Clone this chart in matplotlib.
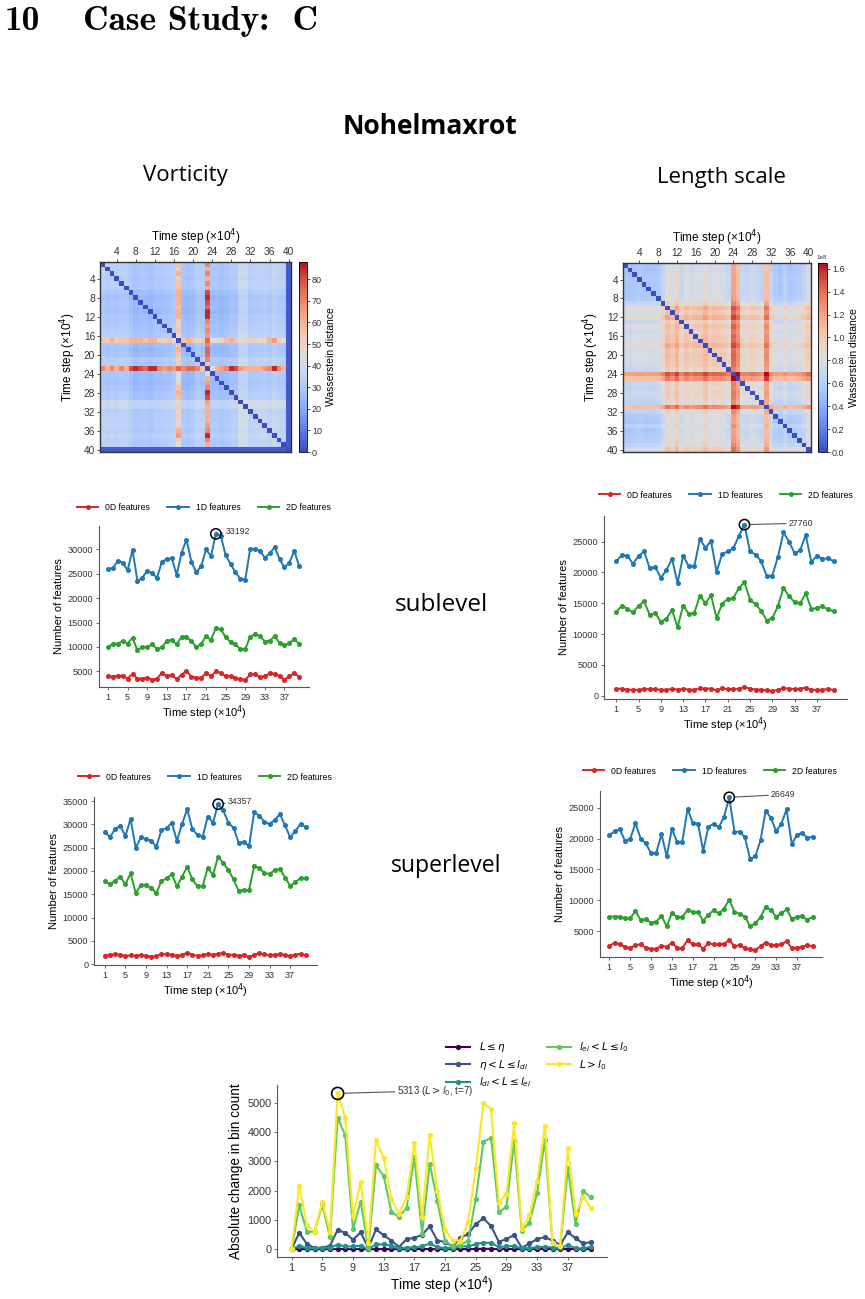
import os
import numpy as np
import matplotlib
matplotlib.use("Agg")
import matplotlib.pyplot as plt
from matplotlib.font_manager import FontProperties

plt.rcParams['font.family'] = ['Liberation Sans', 'DejaVu Sans']

W, H = 865, 1299
steps = list(range(1, 41))
heat_ticks = [4, 8, 12, 16, 20, 24, 28, 32, 36, 40]
line_ticks = [1, 5, 9, 13, 17, 21, 25, 29, 33, 37]
feat_labels = ['0D features', '1D features', '2D features']
feat_colors = ['#d62728', '#1f77b4', '#2ca02c']

# heatmap data: per-step base level plus the rows that stand out
vort_base = [17, 16, 17, 16, 17, 17, 14, 12, 13, 13, 12, 14, 14, 15, 15, 17, 0, 13, 12, 13,
             17, 16, 0, 13, 13, 12, 13, 15, 15, 22, 22, 17, 18, 18, 19, 17, 20, 18, 17, 0]
vort_row17 = [55, 50, 60, 50, 55, 55, 60, 60, 60, 55, 60, 60, 50, 50, 55, 45, 0, 55, 60, 55,
              50, 50, 75, 45, 45, 50, 55, 60, 55, 45, 50, 50, 50, 45, 50, 60, 65, 50, 45, 3]
vort_row23 = [70, 60, 70, 60, 70, 60, 80, 85, 80, 75, 85, 85, 70, 65, 70, 65, 75, 70, 75, 75,
              70, 55, 0, 45, 60, 65, 70, 85, 80, 65, 60, 60, 60, 60, 65, 70, 85, 70, 60, 3]
vort_row40 = [3, 3, 3, 3, 3, 3, 3, 3, 3, 3, 3, 3, 3, 3, 3, 3, 3, 3, 3, 3,
              3, 3, 3, 3, 3, 3, 3, 3, 3, 3, 3, 3, 3, 3, 3, 3, 3, 3, 3, 0]
len_base = [0.27, 0.26, 0.28, 0.30, 0.28, 0.28, 0.28, 0.30, 0.40, 0.58, 0.50, 0.62, 0.42, 0.52,
            0.45, 0.50, 0.50, 0.60, 0.48, 0.52, 0.50, 0.48, 0.42, 0.92, 0.78, 0.42, 0.40, 0.45,
            0.42, 0.38, 0.78, 0.38, 0.30, 0.28, 0.36, 0.28, 0.30, 0.33, 0.38, 0.48]

sub_vort_0d = [4000, 3900, 4100, 4100, 3500, 4500, 3500, 3500, 3700, 3300, 3500, 4700, 4000, 4300,
               3400, 4300, 5100, 3900, 3700, 3700, 4600, 4000, 5000, 4700, 4000, 4000, 3600, 3400,
               3200, 4400, 4400, 3800, 4000, 4600, 4500, 4000, 3300, 4000, 4600, 3900]
sub_vort_1d = [26000, 26100, 27700, 27300, 25700, 29900, 23500, 24200, 25600, 25100, 24200, 27500,
               28000, 28200, 24800, 29300, 32000, 27500, 25300, 26500, 30000, 28600, 33192, 32800,
               28800, 27000, 25300, 24000, 23800, 30100, 30100, 29700, 28300, 29200, 30500, 28000,
               26300, 27300, 29700, 26500]
sub_vort_2d = [9900, 10700, 10700, 11200, 10700, 11900, 9300, 10000, 10000, 10500, 9600, 9900,
               11300, 11400, 10500, 12100, 12100, 11200, 10000, 10600, 12200, 11400, 13900, 13600,
               12000, 11000, 10500, 9500, 9600, 12100, 12600, 12200, 11100, 11300, 12200, 10800,
               10300, 10800, 11600, 10600]

sub_len_0d = [1100, 1150, 1000, 950, 950, 1050, 1100, 1050, 950, 950, 1100, 1000, 1100, 1000, 950,
              1200, 1150, 1150, 850, 1200, 1050, 1100, 1100, 1400, 1150, 1000, 1000, 850, 750, 950,
              1200, 1150, 1050, 1150, 1300, 950, 950, 950, 1100, 900]
sub_len_1d = [21800, 22800, 22700, 21400, 22700, 23400, 20700, 20900, 19100, 20400, 22200, 18300,
              22700, 21000, 21000, 25400, 24000, 25100, 20100, 23000, 23400, 23900, 25900, 27760,
              23400, 22900, 21800, 19400, 19500, 22500, 26500, 25000, 23100, 23600, 26100, 21700,
              22700, 22200, 22300, 21800]
sub_len_2d = [13600, 14600, 14100, 13500, 14600, 15300, 13100, 13400, 12000, 12500, 13900, 11100,
              14600, 13300, 13400, 16200, 15000, 16300, 12600, 14900, 15700, 15800, 17500, 18400,
              15600, 14800, 13800, 12200, 12600, 14500, 17500, 16100, 15200, 15000, 16600, 14100,
              14200, 14500, 14000, 13700]

sup_vort_0d = [1800, 2000, 2100, 2000, 1700, 1900, 1800, 1900, 1800, 1600, 1700, 2100, 2100, 2000,
               1800, 2000, 2400, 2000, 1800, 1900, 2200, 2000, 2200, 2400, 2000, 2000, 1800, 1900,
               1500, 2000, 2300, 2100, 1900, 2000, 2100, 1900, 1700, 2000, 2200, 1900]
sup_vort_1d = [28400, 27300, 29000, 29700, 27500, 31200, 25000, 27200, 26900, 26500, 25200, 28800,
               29200, 30400, 26500, 30100, 33300, 29000, 27700, 27400, 31700, 30400, 34357, 33000,
               30300, 29300, 26000, 26300, 25300, 32600, 31900, 30500, 30100, 31000, 32200, 29800,
               27200, 28600, 30100, 29400]
sup_vort_2d = [17800, 17100, 17900, 18800, 17100, 19500, 15300, 16900, 16900, 16400, 15200, 17900,
               18400, 19300, 16700, 18800, 20900, 18200, 16700, 16800, 20700, 19100, 23100, 21700,
               20200, 18200, 15700, 15900, 15900, 21000, 20600, 19500, 19400, 20200, 20400, 18600,
               16800, 17600, 18500, 18500]

sup_len_0d = [2600, 3200, 2900, 2500, 2300, 2800, 2900, 2400, 2200, 2200, 2700, 2500, 3200, 2300,
              2300, 3600, 2900, 2900, 2200, 3100, 2900, 2900, 3000, 3600, 2600, 2800, 2300, 2100,
              2000, 2600, 3200, 2800, 2800, 2900, 3400, 2300, 2400, 2500, 2800, 2600]
sup_len_1d = [20500, 21200, 21500, 19600, 19900, 22500, 20000, 19200, 17600, 17700, 20700, 17100,
              21600, 19400, 19500, 24800, 22500, 22400, 18000, 21900, 22400, 21800, 23500, 26649,
              21100, 21100, 20200, 16700, 17100, 19700, 24500, 23300, 21200, 22400, 24700, 19100,
              20600, 20900, 20100, 20300]
sup_len_2d = [7400, 7400, 7400, 7100, 7100, 8300, 6800, 7000, 6400, 6600, 7500, 5800, 8000, 7300,
              7300, 8500, 8100, 8100, 6700, 7700, 8400, 7900, 8700, 10100, 8200, 7800, 7400, 5800,
              6300, 7300, 9000, 8400, 7400, 7900, 8600, 7000, 7400, 7500, 6800, 7400]

bin_labels = [r'$L \leq \eta$', r'$\eta < L \leq l_{di}$', r'$l_{di} < L \leq l_{ei}$',
              r'$l_{ei} < L \leq l_0$', r'$L > l_0$']
bin_colors = ['#440154', '#3b528b', '#21918c', '#5ec962', '#fde725']
bin_eta = [0, 10, 5, 5, 5, 5, 10, 10, 5, 10, 0, 10, 10, 5, 5, 5, 10, 10, 15, 5,
           5, 5, 10, 10, 15, 20, 15, 5, 10, 10, 5, 5, 10, 10, 10, 5, 15, 10, 5, 10]
bin_di = [0, 570, 180, 50, 50, 130, 660, 560, 330, 580, 50, 680, 480, 300, 80, 350, 390, 500, 780, 300,
          250, 100, 400, 520, 860, 1060, 790, 260, 350, 490, 50, 200, 350, 420, 300, 150, 580, 380, 200, 250]
bin_ei = [0, 130, 40, 40, 60, 60, 160, 100, 100, 120, 10, 170, 170, 130, 40, 60, 70, 100, 200, 80,
          40, 60, 100, 100, 180, 230, 220, 80, 100, 120, 30, 50, 70, 90, 60, 30, 150, 40, 30, 90]
bin_l0 = [0, 1500, 600, 600, 1520, 420, 4480, 3880, 690, 1630, 50, 2860, 2510, 1280, 1100, 1420, 3150,
          530, 2920, 1650, 300, 100, 150, 290, 1720, 3670, 3800, 1270, 1450, 3700, 640, 910, 1930,
          3720, 200, 100, 2770, 860, 1980, 1780]
bin_big = [0, 2170, 820, 600, 1630, 600, 5313, 4480, 1130, 2290, 230, 3710, 3120, 1720, 1200, 1790, 3640,
           1100, 3880, 1980, 660, 300, 300, 920, 2770, 4970, 4780, 1590, 1890, 4310, 700, 1160, 2330,
           4210, 200, 100, 3470, 1210, 1780, 1420]

fig = plt.figure(figsize=(8.65, 12.99), dpi=100)


def box(l, t, r, b):
    return fig.add_axes([l / W, 1 - b / H, (r - l) / W, (b - t) / H])


def dist_matrix(base, rows):
    a = np.array(base, dtype=float)
    D = a[:, None] + a[None, :]
    for k, vals in rows:
        D[k - 1, :] = vals
        D[:, k - 1] = vals
    np.fill_diagonal(D, 0)
    return D


def heatmap(rect, crect, D, vmax, cticks):
    ax = box(*rect)
    im = ax.imshow(D, cmap='coolwarm', vmin=0, vmax=vmax, aspect='auto', interpolation='nearest')
    pos = [t - 1 for t in heat_ticks]
    ax.set_xticks(pos, heat_ticks)
    ax.set_yticks(pos, heat_ticks)
    ax.xaxis.tick_top()
    ax.xaxis.set_label_position('top')
    ax.set_xlabel('Time step (×10$^4$)', fontsize=8.5, labelpad=4)
    ax.set_ylabel('Time step (×10$^4$)', fontsize=8.5, labelpad=4)
    ax.tick_params(labelsize=7.3, length=2, width=0.6, pad=1.5, colors='#333333')
    for s in ax.spines.values():
        s.set_linewidth(1.0)
        s.set_color('#333333')
    cax = box(*crect)
    cb = fig.colorbar(im, cax=cax, ticks=cticks)
    cb.ax.tick_params(labelsize=6.5, length=2, width=0.6, pad=1.5, colors='#333333')
    cb.outline.set_linewidth(0.6)
    cb.set_label('Wasserstein distance', fontsize=7.5, labelpad=3)
    cb.ax.yaxis.get_offset_text().set_fontsize(4.5)
    return ax


def style_line_axes(ax, size):
    for side in ('top', 'right'):
        ax.spines[side].set_visible(False)
    for side in ('left', 'bottom'):
        ax.spines[side].set_color('#555555')
        ax.spines[side].set_linewidth(0.8)
    ax.tick_params(labelsize=size, length=2.5, width=0.6, pad=1.5, colors='#555555', labelcolor='#333333')


def feature_panel(rect, d0, d1, d2, xlim, ylim, yticks, off, leg):
    ax = box(*rect)
    for vals, c, lab in zip((d0, d1, d2), feat_colors, feat_labels):
        ax.plot(steps, vals, color=c, lw=1.4, marker='o', ms=2.6, label=lab)
    k = int(np.argmax(d1))
    ax.scatter([steps[k]], [d1[k]], s=55, facecolors='none', edgecolors='black', linewidths=1.1, zorder=5)
    ax.annotate(str(d1[k]), xy=(steps[k], d1[k]), xytext=off, textcoords='offset points',
                ha='left', va='center', fontsize=6.3, color='#333333',
                arrowprops=dict(arrowstyle='-', color='#555555', lw=0.8, shrinkA=0, shrinkB=4))
    ax.set_xlim(*xlim)
    ax.set_ylim(*ylim)
    ax.set_xticks(line_ticks)
    ax.set_yticks(yticks)
    ax.set_xlabel('Time step (×10$^4$)', fontsize=8, labelpad=1)
    ax.set_ylabel('Number of features', fontsize=8, labelpad=3)
    style_line_axes(ax, 6.6)
    ax.legend(loc='center', bbox_to_anchor=(leg[0] / W, 1 - leg[1] / H), bbox_transform=fig.transFigure,
              ncol=3, frameon=False, fontsize=6.2, handlelength=2.5, columnspacing=2.0, handletextpad=0.8)
    return ax


# titles
cm_bold = FontProperties(fname=os.path.join(matplotlib.get_data_path(), 'fonts', 'ttf', 'cmb10.ttf'), size=25.5)
fig.text(5 / W, 1 - 30 / H, '10', fontproperties=cm_bold, va='baseline')
fig.text(83 / W, 1 - 30 / H, 'Case Study:  C', fontproperties=cm_bold, va='baseline')
fig.text(430 / W, 1 - 126 / H, 'Nohelmaxrot', fontsize=19, fontweight='bold', family='Open Sans',
         ha='center', va='center')
fig.text(185 / W, 1 - 176 / H, 'Vorticity', fontsize=16, ha='center', va='center', family='Open Sans')
fig.text(721 / W, 1 - 177 / H, 'Length scale', fontsize=16, ha='center', va='center', family='Open Sans')
fig.text(441 / W, 1 - 605 / H, 'sublevel', fontsize=17.5, ha='center', va='center', family='Open Sans')
fig.text(446 / W, 1 - 866 / H, 'superlevel', fontsize=16.6, ha='center', va='center', family='Open Sans')

# heatmaps
D_vort = dist_matrix(vort_base, [(17, vort_row17), (23, vort_row23), (40, vort_row40)])
heatmap((100, 262, 291, 452), (299, 262, 307, 452), D_vort, 88, [0, 10, 20, 30, 40, 50, 60, 70, 80])
D_len = dist_matrix(np.array(len_base) * 1e8, [])
heatmap((623, 263, 811, 452), (818, 263, 827, 452), D_len, 1.65e8,
        [0, 0.2e8, 0.4e8, 0.6e8, 0.8e8, 1.0e8, 1.2e8, 1.4e8, 1.6e8])

# feature counts
feature_panel((99, 526, 309, 687), sub_vort_0d, sub_vort_1d, sub_vort_2d, (-0.84, 42), (1780, 34800),
              [5000, 10000, 15000, 20000, 25000, 30000], (7, 2), (204, 508))
feature_panel((604, 516, 847, 699), sub_len_0d, sub_len_1d, sub_len_2d, (-1.2, 42.4), (-540, 29160),
              [0, 5000, 10000, 15000, 20000, 25000], (32, 1), (726, 495))
feature_panel((94, 797, 317, 965), sup_vort_0d, sup_vort_1d, sup_vort_2d, (-1.1, 42.2), (-200, 35900),
              [0, 5000, 10000, 15000, 20000, 25000, 30000, 35000], (7, 2), (205, 777))
feature_panel((600, 791, 822, 957), sup_len_0d, sup_len_1d, sup_len_2d, (-0.8, 41.8), (870, 27670),
              [5000, 10000, 15000, 20000, 25000], (30, 2), (710, 771))

# bin count change
ax = box(277, 1085, 607, 1257)
for vals, c, lab in zip((bin_eta, bin_di, bin_ei, bin_l0, bin_big), bin_colors, bin_labels):
    ax.plot(steps, vals, color=c, lw=1.5, marker='o', ms=2.8, label=lab)
k = int(np.argmax(bin_big))
ax.scatter([steps[k]], [bin_big[k]], s=75, facecolors='none', edgecolors='black', linewidths=1.2, zorder=6)
ax.annotate(f'{bin_big[k]} ($L > l_0$, t={steps[k]})', xy=(steps[k], bin_big[k]), xytext=(43, 2),
            textcoords='offset points', ha='left', va='center', fontsize=7, color='#333333',
            arrowprops=dict(arrowstyle='-', color='#555555', lw=0.8, shrinkA=0, shrinkB=5))
ax.set_xlim(-0.9, 42.1)
ax.set_ylim(-260, 5600)
ax.set_xticks(line_ticks)
ax.set_yticks([0, 1000, 2000, 3000, 4000, 5000])
ax.set_xlabel('Time step (×10$^4$)', fontsize=9.8, labelpad=1)
ax.set_ylabel('Absolute change in bin count', fontsize=9.8, labelpad=3)
style_line_axes(ax, 7.8)
ax.legend(loc='upper left', bbox_to_anchor=(437 / W, 1 - 1031 / H), bbox_transform=fig.transFigure,
          ncol=2, frameon=False, fontsize=7.5, handlelength=2.3, columnspacing=1.5,
          handletextpad=0.8, labelspacing=0.35)

fig.savefig('out.png', dpi=100)
